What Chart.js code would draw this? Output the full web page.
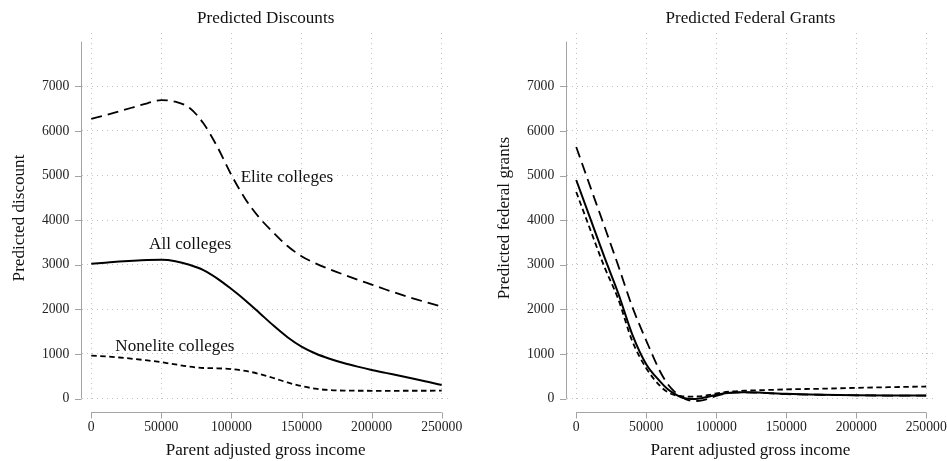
<!DOCTYPE html>
<html><head><meta charset="utf-8">
<script src="https://cdn.jsdelivr.net/npm/chart.js@4"></script>
<style>
html,body{margin:0;padding:0;background:#fff;}
#wrap{position:relative;width:947px;height:461px;overflow:hidden;}
canvas{position:absolute;top:0;}
</style></head><body>
<div id="wrap">
<canvas id="c1" width="473" height="461" style="left:0"></canvas>
<canvas id="c2" width="474" height="461" style="left:473px"></canvas>
</div>
<script>
// ---------- data ----------
const incomeLeft = [0,10000,20000,30000,40000,50000,60000,70000,80000,90000,100000,110000,120000,130000,140000,150000,160000,170000,180000,190000,200000,210000,220000,230000,240000,250000];
const eliteDiscount = [6270,6350,6440,6530,6620,6690,6655,6520,6170,5640,5010,4470,4050,3720,3420,3190,3030,2900,2780,2665,2555,2445,2340,2240,2150,2060];
const allDiscount = [3020,3045,3070,3090,3105,3110,3080,3000,2880,2690,2455,2200,1920,1635,1375,1165,1010,893,797,715,640,575,510,445,375,303];
const nonEliteDiscount = [960,945,920,890,855,815,765,715,685,678,660,620,550,460,360,280,220,190,178,175,174,174,174,175,175,176];

const incomeRight = [0,10000,20000,30000,40000,50000,60000,65000,70000,75000,80000,85000,90000,95000,100000,110000,120000,130000,140000,150000,175000,200000,225000,250000];
const eliteFederal = [5640,4750,3870,2980,2060,1300,600,340,160,40,-35,-55,-40,5,60,125,140,130,115,100,85,72,66,65];
const allFederal = [4900,4040,3180,2360,1440,770,380,220,110,30,-5,-10,10,45,85,130,140,135,120,105,85,75,70,70];
const nonEliteFederal = [4630,3790,2960,2230,1290,680,280,150,80,55,45,45,55,80,115,155,175,185,195,205,220,240,255,270];

const xTickValues = [0,50000,100000,150000,200000,250000];
const yTickValues = [0,1000,2000,3000,4000,5000,6000,7000];
const xAxisRange = [0,250000];
const yAxisRange = [0,8000];

const discountLabels = [
  {text:'Elite colleges', x:139600, y:4848},
  {text:'All colleges', x:70560, y:3345},
  {text:'Nonelite colleges', x:59700, y:1072}
];

// ---------- styling ----------
const FONT = 'Liberation Serif, Times New Roman, serif';
const styles = {
  elite: {borderWidth:1.8, borderDash:[11,6]},
  all: {borderWidth:2, borderDash:[]},
  nonelite: {borderWidth:1.8, borderDash:[5.5,3.5]}
};

function series(xs, ys) { return xs.map((v,i)=>({x:v, y:ys[i]})); }

const stataPlugin = {
  id:'stata',
  afterDraw(chart, args, opts) {
    const {ctx, chartArea:a, scales:{x, y}} = chart;
    ctx.save();
    ctx.strokeStyle = '#a3a3a3';
    ctx.lineWidth = 1;
    ctx.setLineDash([]);
    ctx.beginPath();
    const ax = Math.round(a.left - 1.5) + 0.5;
    ctx.moveTo(ax, y.getPixelForValue(yAxisRange[1]));
    ctx.lineTo(ax, y.getPixelForValue(yAxisRange[0]));
    yTickValues.forEach(v => {
      const p = Math.round(y.getPixelForValue(v)) + 0.5;
      ctx.moveTo(ax - 6.5, p); ctx.lineTo(ax, p);
    });
    const ay = Math.round(a.bottom + 9) + 0.5;
    ctx.moveTo(x.getPixelForValue(xAxisRange[0]), ay);
    ctx.lineTo(x.getPixelForValue(xAxisRange[1]), ay);
    xTickValues.forEach(v => {
      const p = Math.round(x.getPixelForValue(v)) + 0.5;
      ctx.moveTo(p, ay); ctx.lineTo(p, ay + 6);
    });
    ctx.stroke();

    ctx.fillStyle = '#111';
    ctx.font = '17.1px ' + FONT;
    ctx.textAlign = 'center';
    ctx.textBaseline = 'alphabetic';
    ctx.fillText(opts.title, (a.left + a.right) / 2, 23.3);
    (opts.labels || []).forEach(l => {
      ctx.fillText(l.text, x.getPixelForValue(l.x), y.getPixelForValue(l.y));
    });
    ctx.restore();
  }
};

function makeChart(id, cfg) {
  return new Chart(document.getElementById(id), {
    type:'line',
    data:{datasets:[
      Object.assign({label:'Elite', data:series(cfg.xs, cfg.elite)}, styles.elite),
      Object.assign({label:'All', data:series(cfg.xs, cfg.all)}, styles.all),
      Object.assign({label:'Nonelite', data:series(cfg.xs, cfg.nonelite)}, styles.nonelite)
    ].map(d => Object.assign(d, {borderColor:'#000', pointRadius:0, fill:false, tension:0.4, cubicInterpolationMode:'monotone'}))},
    options:{
      responsive:false, animation:false, devicePixelRatio:1,
      layout:{autoPadding:false, padding:{top:33, right:cfg.padRight, bottom:0, left:0}},
      plugins:{legend:{display:false}, tooltip:{enabled:false}, title:{display:false},
        stata:{title:cfg.title, labels:cfg.labels}},
      scales:{
        x:{type:'linear', min:-6600, max:255500, bounds:'data',
          afterBuildTicks:s => { s.ticks = xTickValues.map(v => ({value:v})); },
          afterFit:s => { s.height = 58; },
          grid:{color:'#c2c2c2', lineWidth:1, drawTicks:true, tickLength:16.5, tickWidth:0},
          border:{display:false, dash:[1,4]},
          ticks:{padding:0, autoSkip:false, maxRotation:0, color:'#222', font:{family:FONT, size:13.7}, callback:v => String(v)},
          title:{display:true, text:'Parent adjusted gross income', color:'#111', font:{family:FONT, size:17.1}, padding:{top:0, bottom:0}}
        },
        y:{type:'linear', min:-100, max:8195, bounds:'data',
          afterBuildTicks:s => { s.ticks = yTickValues.map(v => ({value:v})); },
          afterFit:s => { s.width = cfg.yWidth; },
          grid:{color:'#c2c2c2', lineWidth:1, drawTicks:false},
          border:{display:false, dash:[1,4]},
          ticks:{padding:12.7, autoSkip:false, color:'#222', font:{family:FONT, size:13.7}, callback:v => String(v)},
          title:{display:true, text:cfg.yTitle, color:'#111', font:{family:FONT, size:17.1}, padding:{top:cfg.yTitlePad, bottom:0}}
        }
      }
    },
    plugins:[stataPlugin]
  });
}

makeChart('c1', {xs:incomeLeft, elite:eliteDiscount, all:allDiscount, nonelite:nonEliteDiscount,
  title:'Predicted Discounts', yTitle:'Predicted discount', yWidth:82, yTitlePad:8.9, padRight:23.6, labels:discountLabels});
makeChart('c2', {xs:incomeRight, elite:eliteFederal, all:allFederal, nonelite:nonEliteFederal,
  title:'Predicted Federal Grants', yTitle:'Predicted federal grants', yWidth:94, yTitlePad:21.2, padRight:13, labels:[]});
</script>
</body></html>
